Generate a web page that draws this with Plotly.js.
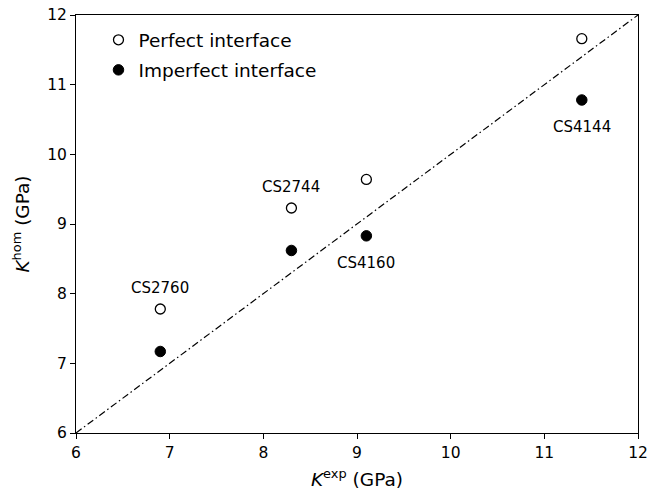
<!DOCTYPE html>
<html><head><meta charset="utf-8">
<script src="https://cdn.plot.ly/plotly-3.0.1.min.js"></script>
<style>body{margin:0;padding:0;background:#fff}#chart{width:649px;height:494px}</style>
</head><body><div id="chart"></div>
<script>
const samples = ["CS2760", "CS2744", "CS4160", "CS4144"];
const kExp = [6.9, 8.3, 9.1, 11.4];
const kHomPerfect = [7.78, 9.23, 9.64, 11.66];
const kHomImperfect = [7.17, 8.62, 8.83, 10.78];
const diagonal = [6, 12];
// label placement: above perfect point (true) or below imperfect point (false)
const labelAbove = [true, true, false, false];

const font = "DejaVu Sans, sans-serif";

const traces = [
  {x: diagonal, y: diagonal, mode: "lines", showlegend: false, hoverinfo: "skip",
   line: {color: "black", width: 1.2, dash: "7px,3px,1.5px,3px"}},
  {x: kExp, y: kHomPerfect, mode: "markers", name: "Perfect interface", legendgroup: "a",
   marker: {symbol: "circle", size: 10, color: "white", line: {color: "black", width: 1.3}}},
  {x: kExp, y: kHomImperfect, mode: "markers", name: "Imperfect interface", legendgroup: "b",
   marker: {symbol: "circle", size: 10.5, color: "black", line: {color: "black", width: 1}}}
];

const annotations = samples.map((s, i) => ({
  x: kExp[i],
  y: labelAbove[i] ? kHomPerfect[i] : kHomImperfect[i],
  xref: "x", yref: "y", text: s, showarrow: false,
  yshift: labelAbove[i] ? 21 : -27,
  font: {family: font, size: 15, color: "black"}
}));

const axisCommon = {
  range: [6, 12], dtick: 1, tick0: 6, showgrid: false, zeroline: false,
  showline: true, mirror: true, linecolor: "black", linewidth: 1,
  ticks: "outside", ticklen: 5, tickwidth: 1, tickcolor: "black",
  tickfont: {family: font, size: 15.5, color: "black"}
};

const layout = {
  width: 649, height: 494,
  margin: {l: 76, r: 11, t: 15, b: 61},
  paper_bgcolor: "white", plot_bgcolor: "white",
  font: {family: font, size: 15, color: "black"},
  xaxis: Object.assign({}, axisCommon, {
    title: {text: "<i>K</i><sup>exp</sup> (GPa)", font: {family: font, size: 18.5}, standoff: 12}
  }),
  yaxis: Object.assign({}, axisCommon, {
    title: {text: "<i>K</i><sup>hom</sup> (GPa)", font: {family: font, size: 18.5}, standoff: 12}
  }),
  legend: {x: 0.04, y: 0.985, xanchor: "left", yanchor: "top", bgcolor: "rgba(0,0,0,0)",
    font: {family: font, size: 18.5}, traceorder: "grouped", tracegroupgap: 3},
  annotations: annotations,
  showlegend: true
};

Plotly.newPlot("chart", traces, layout, {displayModeBar: false, staticPlot: true});
</script></body></html>
